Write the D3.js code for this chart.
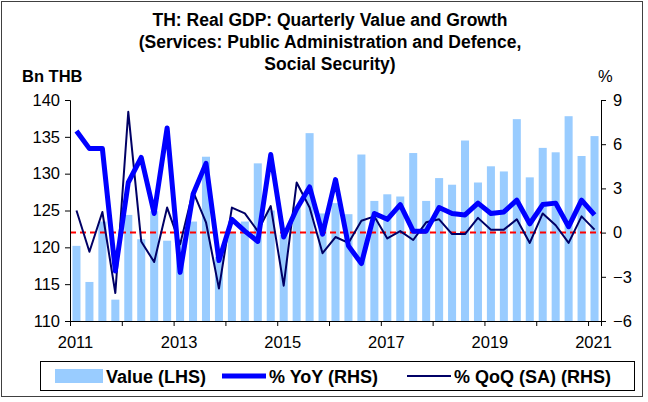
<!DOCTYPE html>
<html>
<head>
<meta charset="utf-8">
<script src="https://cdn.jsdelivr.net/npm/d3@7"></script>
<style>
  body { margin: 0; background: #fff; }
  svg { font-family: "Liberation Sans", Arial, sans-serif; }
</style>
</head>
<body>
<svg id="chart" width="648" height="402"></svg>
<script>
// quarterly data, 2011Q1 .. 2021Q1
let quarters = d3.range(41).map(i => (2011 + Math.floor(i / 4)) + "Q" + (i % 4 + 1));
let valueLHS = [120.2, 115.3, 123.5, 112.9, 124.4, 121.1, 124.9, 120.9, 121.0, 123.5, 132.3, 118.7,
    122.1, 123.5, 131.4, 125.0, 121.7, 125.5, 135.5, 124.6, 126.0, 124.5, 132.6, 126.3,
    127.2, 126.9, 132.8, 126.3, 129.4, 128.5, 134.5, 128.8, 131.0, 130.3, 137.4, 129.5,
    133.5, 132.9, 137.8, 132.4, 135.1];
let yoy = [6.9, 5.7, 5.7, -2.6, 3.4, 5.1, 1.3, 7.1, -2.7, 2.6, 4.7, -1.9,
    0.9, 0.1, -0.6, 5.3, -0.3, 1.6, 3.1, -0.1, 3.6, -0.9, -2.1, 1.3,
    0.9, 1.9, 0.1, 0.1, 1.7, 1.3, 1.2, 2.0, 1.3, 1.4, 2.2, 0.6,
    1.9, 2.0, 0.4, 2.2, 1.2];
let qoq = [1.5, -1.3, 1.4, -4.1, 8.2, -0.6, -2.0, 1.7, -0.8, 2.8, 0.7, -3.8,
    1.7, 1.3, 0.1, 1.8, -3.6, 3.4, 1.7, -1.4, -0.3, -0.7, 0.8, 1.1,
    -0.4, 0.1, -0.5, 0.7, 0.9, -0.1, -0.1, 1.0, 0.2, 0.2, 0.9, -0.7,
    1.3, 0.5, -0.7, 1.1, 0.2];
let leftTicks = [110, 115, 120, 125, 130, 135, 140];
let rightTicks = [-6, -3, 0, 3, 6, 9];
let yearTicks = d3.range(2011, 2022);
let yearLabels = [2011, 2013, 2015, 2017, 2019, 2021];
let titleLines = ["TH: Real GDP: Quarterly Value and Growth",
    "(Services: Public Administration and Defence,",
    "Social Security)"];

const pLeft = 70, pRight = 601, pTop = 100, pBottom = 321;
let svg = d3.select("#chart");

// outer frame
svg.append("rect")
    .attr("x", 1.5).attr("y", 1.5)
    .attr("width", 641).attr("height", 395)
    .attr("fill", "none")
    .attr("stroke", "#404040")
    .attr("stroke-width", 1);

let x = d3.scaleBand()
    .domain(quarters)
    .range([pLeft, pRight])
    .paddingInner(0.38)
    .paddingOuter(0.19);
let yL = d3.scaleLinear().domain([110, 140]).range([pBottom, pTop]);
let yR = d3.scaleLinear().domain([-6, 9]).range([pBottom, pTop]);
let xYear = d3.scaleLinear().domain([2011, 2011 + 41 / 4]).range([pLeft, pRight]);

// title
svg.append("g").selectAll("text")
    .data(titleLines)
    .enter().append("text")
    .attr("x", 330)
    .attr("y", (d, i) => 26 + i * 22)
    .attr("text-anchor", "middle")
    .style("font-size", "17.5px")
    .style("font-weight", "bold")
    .text(d => d);

svg.append("text")
    .attr("x", 22).attr("y", 82)
    .style("font-size", "16.5px").style("font-weight", "bold")
    .text("Bn THB");
svg.append("text")
    .attr("x", 598).attr("y", 82)
    .style("font-size", "16.5px")
    .text("%");

// bars
svg.append("g").selectAll("rect")
    .data(valueLHS)
    .enter().append("rect")
    .attr("x", (d, i) => x(quarters[i]))
    .attr("width", x.bandwidth())
    .attr("y", d => yL(d))
    .attr("height", d => yL(110) - yL(d))
    .attr("fill", "#99ccff");

// zero line
svg.append("line")
    .attr("x1", pLeft).attr("x2", pRight)
    .attr("y1", yR(0)).attr("y2", yR(0))
    .attr("stroke", "#ff0000")
    .attr("stroke-width", 2)
    .style("stroke-dasharray", "6,4");

function line(data, color, width) {
    svg.append("path")
        .datum(data)
        .attr("fill", "none")
        .attr("stroke", color)
        .attr("stroke-width", width)
        .attr("stroke-linejoin", "round")
        .attr("d", d3.line()
            .x((d, i) => x(quarters[i]) + x.bandwidth() / 2)
            .y(d => yR(d)));
}
line(qoq, "#000066", 2);
line(yoy, "#0000ff", 5);

// axes
let axL = svg.append("g")
    .attr("transform", `translate(${pLeft},0)`)
    .call(d3.axisLeft(yL).tickValues(leftTicks).tickSize(5).tickPadding(5));
let axR = svg.append("g")
    .attr("transform", `translate(${pRight},0)`)
    .call(d3.axisRight(yR).tickValues(rightTicks).tickSize(5).tickPadding(7));
let axB = svg.append("g")
    .attr("transform", `translate(0,${pBottom})`)
    .call(d3.axisBottom(xYear).tickValues(yearTicks).tickSize(5).tickPadding(10)
        .tickFormat(d => yearLabels.includes(d) ? d : ""));
axB.selectAll("text").attr("x", 5);
[axL, axR, axB].forEach(a => {
    a.select(".domain").attr("stroke", "#000");
    a.selectAll(".tick line").attr("stroke", "#000");
    a.selectAll("text").style("font-size", "16.5px").attr("fill", "#000").style("font-family", "Liberation Sans, Arial, sans-serif");
});

// legend
let lg = svg.append("g");
lg.append("rect")
    .attr("x", 40.5).attr("y", 361.5)
    .attr("width", 594).attr("height", 29)
    .attr("fill", "#fff").attr("stroke", "#000");
lg.append("rect")
    .attr("x", 55).attr("y", 369).attr("width", 48).attr("height", 14)
    .attr("fill", "#99ccff");
lg.append("line")
    .attr("x1", 222).attr("x2", 266).attr("y1", 376).attr("y2", 376)
    .attr("stroke", "#0000ff").attr("stroke-width", 5);
lg.append("line")
    .attr("x1", 407).attr("x2", 451).attr("y1", 376).attr("y2", 376)
    .attr("stroke", "#000066").attr("stroke-width", 2);
let legendText = [["Value (LHS)", 106], ["% YoY (RHS)", 269], ["% QoQ (SA) (RHS)", 454]];
lg.selectAll("text.lt")
    .data(legendText)
    .enter().append("text")
    .attr("class", "lt")
    .attr("x", d => d[1]).attr("y", 383)
    .style("font-size", "18px").style("font-weight", "bold")
    .text(d => d[0]);
</script>
</body>
</html>
